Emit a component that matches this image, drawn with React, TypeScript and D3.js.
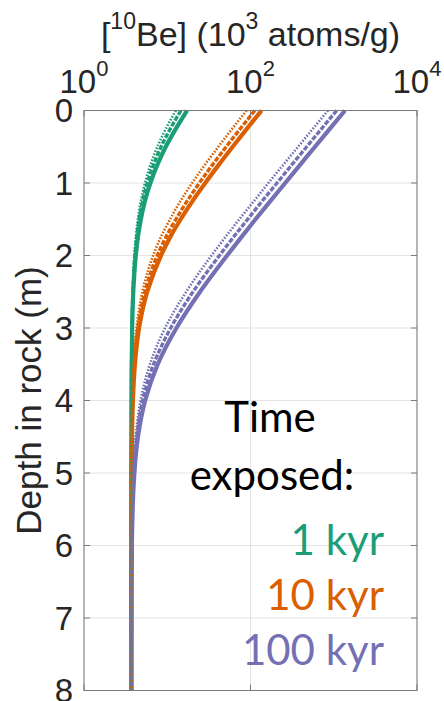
import React from 'react'
import * as d3 from 'd3'

// depth below surface (m)
const depths = [0, 0.25, 0.5, 0.75, 1, 1.25, 1.5, 1.75, 2, 2.5, 3, 3.5, 4, 4.5, 5, 6, 7, 8]

// [10Be] in 10^3 atoms/g
const kyr1Solid = [17.3, 12.7, 9.6, 7.6, 6.27, 5.39, 4.82, 4.44, 4.19, 3.91, 3.79, 3.74, 3.72, 3.71, 3.7, 3.7, 3.7, 3.7]
const kyr1Dashed = [14.6, 10.9, 8.44, 6.82, 5.76, 5.06, 4.59, 4.29, 4.09, 3.87, 3.77, 3.73, 3.71, 3.7, 3.7, 3.7, 3.7, 3.7]
const kyr1Dotted = [12.7, 9.63, 7.61, 6.28, 5.4, 4.82, 4.44, 4.19, 4.02, 3.84, 3.76, 3.73, 3.71, 3.7, 3.7, 3.7, 3.7, 3.7]
const kyr10Solid = [135.7, 90.7, 61.1, 41.5, 28.6, 20.1, 14.5, 10.8, 8.41, 5.75, 4.59, 4.09, 3.87, 3.77, 3.73, 3.71, 3.7, 3.7]
const kyr10Dashed = [112.7, 75.6, 51.1, 34.9, 24.3, 17.3, 12.7, 9.6, 7.59, 5.39, 4.43, 4.02, 3.84, 3.76, 3.73, 3.7, 3.7, 3.7]
const kyr10Dotted = [89.7, 60.4, 41.1, 28.3, 19.9, 14.4, 10.8, 8.35, 6.77, 5.03, 4.28, 3.95, 3.81, 3.75, 3.72, 3.7, 3.7, 3.7]
const kyr100Solid = [1365, 901, 595, 394, 261, 173, 115, 77.3, 52.3, 24.8, 12.9, 7.69, 5.43, 4.45, 4.03, 3.76, 3.71, 3.7]
const kyr100Dashed = [1084, 716, 473, 313, 208, 138, 92.4, 62.1, 42.3, 20.4, 11.0, 6.86, 5.07, 4.3, 3.96, 3.75, 3.7, 3.7]
const kyr100Dotted = [853, 564, 373, 247, 164, 110, 73.4, 49.6, 34.0, 16.9, 9.42, 6.19, 4.78, 4.17, 3.9, 3.74, 3.7, 3.7]

const legendLabels = ['1 kyr', '10 kyr', '100 kyr']
const colors = ['#1b9e77', '#d95f02', '#7570b3']
const xTickExp = [0, 2, 4]
const yTicks = [0, 1, 2, 3, 4, 5, 6, 7, 8]

const series = [
  { values: kyr1Solid, color: 0, style: 'solid' },
  { values: kyr10Solid, color: 1, style: 'solid' },
  { values: kyr100Solid, color: 2, style: 'solid' },
  { values: kyr1Dashed, color: 0, style: 'dashed' },
  { values: kyr10Dashed, color: 1, style: 'dashed' },
  { values: kyr100Dashed, color: 2, style: 'dashed' },
  { values: kyr1Dotted, color: 0, style: 'dotted' },
  { values: kyr10Dotted, color: 1, style: 'dotted' },
  { values: kyr100Dotted, color: 2, style: 'dotted' },
]

const lineStyle: Record<string, { w: number; dash?: string }> = {
  solid: { w: 4.2 },
  dashed: { w: 3.4, dash: '5,1.6' },
  dotted: { w: 2.6, dash: '1.6,1.6' },
}

export default function App() {
  const width = 444
  const height = 701
  const margin = { top: 110.5, right: 27, bottom: 10.5, left: 84 }
  const axisFont = '"Liberation Sans", Arial, Helvetica, sans-serif'
  const textColor = '#262626'

  const x = d3.scaleLog().domain([1, 1e4]).range([margin.left, width - margin.right])
  const y = d3.scaleLinear().domain([0, 8]).range([margin.top, height - margin.bottom])

  const line = d3.line<number>()
    .x(v => x(v))
    .y((v, i) => y(depths[i]))
    .curve(d3.curveMonotoneY)

  const [x0, x1] = x.range()
  const [y0, y1] = y.range()
  const tickLen = 6

  return (
    <svg width={width} height={height} style={{ position: 'absolute', left: 0, top: 0, background: '#fff' }}>
      {/* grid */}
      <g stroke="#e3e3e3" strokeWidth={1}>
        {yTicks.map(t => (
          <line key={'gy' + t} x1={x0} x2={x1} y1={y(t)} y2={y(t)} />
        ))}
        {xTickExp.map(e => (
          <line key={'gx' + e} x1={x(10 ** e)} x2={x(10 ** e)} y1={y0} y2={y1} />
        ))}
      </g>

      {/* curves */}
      <g fill="none">
        {series.map((s, i) => (
          <path
            key={i}
            d={line(s.values) || ''}
            stroke={colors[s.color]}
            strokeWidth={lineStyle[s.style].w}
            strokeDasharray={lineStyle[s.style].dash}
          />
        ))}
      </g>

      {/* box and ticks */}
      <g stroke="#7a7a7a" strokeWidth={1} fill="none">
        <rect x={x0} y={y0} width={x1 - x0} height={y1 - y0} />
        {yTicks.map(t => (
          <g key={'ty' + t}>
            <line x1={x0} x2={x0 + tickLen} y1={y(t)} y2={y(t)} />
            <line x1={x1} x2={x1 - tickLen} y1={y(t)} y2={y(t)} />
          </g>
        ))}
        {xTickExp.map(e => (
          <g key={'tx' + e}>
            <line x1={x(10 ** e)} x2={x(10 ** e)} y1={y0} y2={y0 + tickLen} />
            <line x1={x(10 ** e)} x2={x(10 ** e)} y1={y1} y2={y1 - tickLen} />
          </g>
        ))}
      </g>

      {/* y tick labels */}
      <g fontFamily={axisFont} fontSize={33} fill={textColor} textAnchor="end">
        {yTicks.map(t => (
          <text key={'ly' + t} x={x0 - 11} y={y(t)} dy="0.35em">{t}</text>
        ))}
      </g>

      {/* x tick labels */}
      <g fontFamily={axisFont} fill={textColor} textAnchor="middle">
        {xTickExp.map(e => (
          <text key={'lx' + e} x={x(10 ** e)} y={93} fontSize={33}>
            10<tspan fontSize={22} dy={-17}>{e}</tspan>
          </text>
        ))}
      </g>

      {/* x axis title */}
      <text x={(x0 + x1) / 2} y={46} fontFamily={axisFont} fontSize={34} fill={textColor} textAnchor="middle">
        [<tspan fontSize={23} dy={-17}>10</tspan>
        <tspan dy={17}>Be] (10</tspan>
        <tspan fontSize={23} dy={-17}>3</tspan>
        <tspan dy={17}> atoms/g)</tspan>
      </text>

      {/* y axis title */}
      <text
        transform={`translate(41,${(y0 + y1) / 2}) rotate(-90)`}
        fontFamily={axisFont}
        fontSize={35}
        fill={textColor}
        textAnchor="middle"
      >
        Depth in rock (m)
      </text>

      {/* legend */}
      <g fontFamily='Lato, "Open Sans", sans-serif' fontSize={42}>
        <text x={270} y={432} textAnchor="middle" fill="#000">Time</text>
        <text x={272} y={490} textAnchor="middle" fill="#000">exposed:</text>
        {legendLabels.map((l, i) => (
          <text key={l} x={384} y={555 + i * 55} textAnchor="end" fill={colors[i]}>{l}</text>
        ))}
      </g>
    </svg>
  )
}
